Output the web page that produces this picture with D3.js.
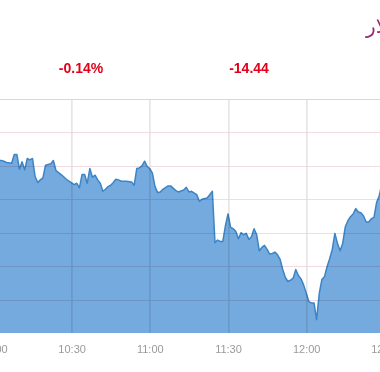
<!DOCTYPE html>
<html>
<head>
<meta charset="utf-8">
<script src="https://cdn.jsdelivr.net/npm/d3@7"></script>
<style>
  body { margin: 0; background: #fff; }
  svg { display: block; }
  .x-axis text { font-family: "Liberation Sans", Arial, sans-serif; font-size: 11px; fill: #9a9a9a; }
</style>
</head>
<body>
<script>
// minutes after 10:00 and index value
var minutes = [0, 3, 4, 5, 7, 8, 9, 10, 11, 12, 13, 14, 15, 16, 17, 18, 19, 20, 22, 23,
  24, 26, 28, 29, 31, 32, 33, 34, 35, 36, 37, 38, 39, 40, 41, 42, 43, 44, 45, 46,
  47, 48, 49, 51, 53, 54, 55, 56, 57, 58, 59, 60, 61, 62, 63, 64, 65, 67, 68, 70,
  71, 73, 74, 75, 76, 78, 79, 80, 82, 83, 84, 85, 86, 87, 88, 89, 90, 91, 92, 93,
  94, 95, 96, 97, 98, 99, 100, 101, 102, 103, 104, 105, 106, 107, 108, 109, 110, 111, 112, 113,
  114, 115, 116, 117, 118, 119, 120, 121, 122, 123, 124, 125, 126, 127, 128, 129, 130, 131, 132, 133,
  134, 135, 136, 137, 138, 139, 140, 141, 142, 143, 144, 145, 146, 147, 148, 149, 150];
var values = [10315.9, 10315.8, 10315.7, 10315.5, 10315.4, 10316.7, 10316.7, 10314.5, 10315.6, 10314.4,
  10316.1, 10315.9, 10316.1, 10313.4, 10312.5, 10312.9, 10313.2, 10315.1, 10315.3, 10315.8,
  10314.3, 10313.7, 10313.0, 10312.7, 10312.2, 10312.4, 10311.7, 10313.7, 10313.7, 10312.4,
  10314.6, 10313.3, 10313.6, 10312.9, 10312.4, 10311.2, 10311.5, 10311.9, 10312.1, 10312.5,
  10313.0, 10312.9, 10312.7, 10312.7, 10312.6, 10312.1, 10314.6, 10314.7, 10315.0, 10315.7,
  10314.9, 10314.6, 10313.9, 10311.9, 10311.0, 10311.1, 10311.5, 10312.0, 10312.0, 10311.3,
  10311.1, 10311.4, 10311.8, 10311.1, 10311.2, 10310.7, 10309.7, 10310.0, 10310.2, 10310.7,
  10311.2, 10303.5, 10303.9, 10303.7, 10303.7, 10306.0, 10307.8, 10305.8, 10305.6, 10305.2,
  10304.1, 10305.0, 10304.7, 10304.9, 10304.0, 10304.4, 10305.6, 10304.7, 10302.3, 10302.8,
  10303.1, 10302.5, 10301.8, 10301.9, 10302.1, 10301.7, 10301.0, 10299.5, 10298.3, 10297.7,
  10297.9, 10298.2, 10299.5, 10298.6, 10298.1, 10297.2, 10296.0, 10294.7, 10294.5, 10294.5,
  10292.0, 10295.9, 10298.0, 10298.4, 10299.9, 10301.1, 10302.5, 10304.9, 10303.4, 10302.3,
  10303.4, 10305.9, 10306.8, 10307.4, 10307.8, 10308.6, 10308.1, 10308.0, 10307.5, 10306.6,
  10306.6, 10307.1, 10307.3, 10309.5, 10310.5, 10312.3, 10312.9];

var timeTicks = ["10:00", "10:30", "11:00", "11:30", "12:00", "12:30"];
var valueTicks = [10290, 10295, 10300, 10305, 10310, 10315, 10320, 10325];
var statLabels = ["-0.14%", "-14.44"];
var titleText = "دولار";

var margin = { top: 99, left: -6.6 },
    width = 391,
    height = 234;

var parseTime = d3.timeParse("%H:%M");
var start = parseTime("10:00");
var data = minutes.map(function(m, i) {
  return { t: d3.timeMinute.offset(start, m), v: values[i] };
});

var svg = d3.select("body").append("svg")
    .attr("width", 380)
    .attr("height", 372);

var g = svg.append("g")
    .attr("transform", "translate(" + margin.left + "," + margin.top + ")");

var x = d3.scaleTime()
    .domain([parseTime("10:00"), parseTime("12:30")])
    .range([0, width]);
var y = d3.scaleLinear()
    .domain([10290, 10325])
    .range([height, 0]);

// area + line
var area = d3.area()
    .x(d => x(d.t))
    .y0(height)
    .y1(d => y(d.v));
var line = d3.line()
    .x(d => x(d.t))
    .y(d => y(d.v));

g.append("path")
    .datum(data)
    .attr("d", area)
    .style("fill", "#74aade");

g.append("path")
    .datum(data)
    .attr("d", line)
    .style("fill", "none")
    .style("stroke", "#3b84c6")
    .style("stroke-width", 1.5)
    .style("stroke-linejoin", "round");

// grid lines on top, multiplied so they darken the fill
var grid = g.append("g").style("mix-blend-mode", "multiply");

grid.selectAll(".hgrid")
    .data(valueTicks.slice(1, -1))
    .enter().append("line")
    .attr("x1", 0).attr("x2", width)
    .attr("y1", d => Math.round(y(d)) + 0.5)
    .attr("y2", d => Math.round(y(d)) + 0.5)
    .style("stroke", "#f1dce3")
    .style("stroke-width", 1.2);

grid.selectAll(".vgrid")
    .data(timeTicks.slice(1, -1).map(parseTime))
    .enter().append("line")
    .attr("x1", d => Math.round(x(d)) + 0.5)
    .attr("x2", d => Math.round(x(d)) + 0.5)
    .attr("y1", 0).attr("y2", height)
    .style("stroke", "#dedadb")
    .style("stroke-width", 1.2);

// top border
g.append("line")
    .attr("x1", 0).attr("x2", width)
    .attr("y1", 0.5).attr("y2", 0.5)
    .style("stroke", "#dcd6d8")
    .style("stroke-width", 1.2);

// x axis labels
g.append("g")
    .attr("class", "x-axis")
    .attr("transform", "translate(0," + height + ")")
    .call(d3.axisBottom(x)
      .tickValues(timeTicks.map(parseTime))
      .tickFormat(d3.timeFormat("%H:%M"))
      .tickSize(0)
      .tickPadding(12))
    .call(a => a.select(".domain").remove());

// change figures above the plot
svg.selectAll(".stat")
    .data(statLabels)
    .enter().append("text")
    .attr("class", "stat")
    .attr("x", (d, i) => i === 0 ? 81 : 249)
    .attr("y", 73)
    .attr("text-anchor", "middle")
    .style("font-family", "'Liberation Sans', Arial, sans-serif")
    .style("font-weight", "bold")
    .style("font-size", "14px")
    .style("fill", "#e3001b")
    .text(d => d);

svg.append("text")
    .attr("x", 366)
    .attr("y", 33)
    .attr("text-anchor", "start")
    .style("font-family", "'DejaVu Sans', sans-serif")
    .style("font-size", "20px")
    .style("fill", "#8d2a78")
    .text(titleText);
</script>
</body>
</html>
